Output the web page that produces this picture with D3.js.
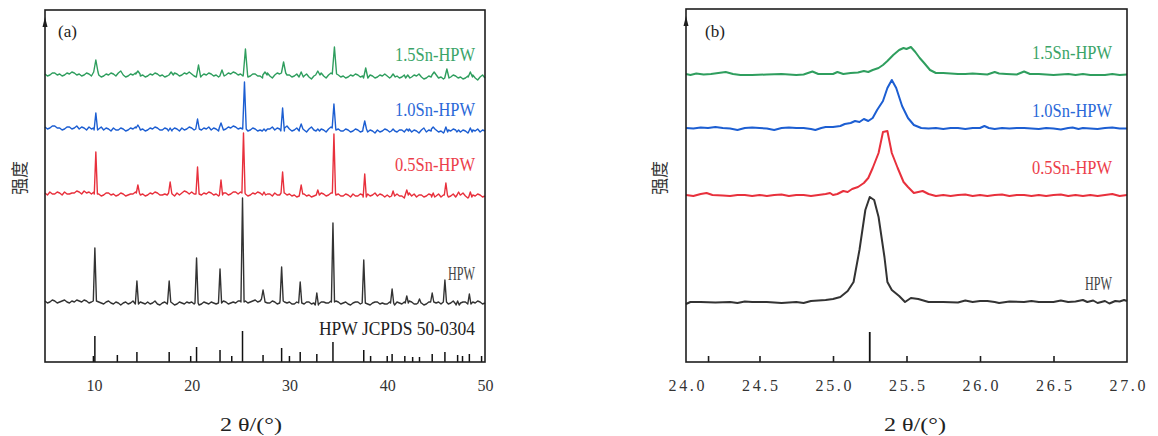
<!DOCTYPE html>
<html>
<head>
<meta charset="utf-8">
<script src="https://cdn.jsdelivr.net/npm/d3@7"></script>
<style>
  body { margin: 0; background: #ffffff; }
  svg { display: block; }
  text { font-family: "Liberation Serif", "DejaVu Serif", serif; }
</style>
</head>
<body>
<svg id="chart" width="1158" height="436"></svg>
<script>
// ---------- Panel (a): full scans, 2θ = 5–50°, baseline read every 0.25° ----------
const scanStart = 5, scanStep = 0.25;

const baseHPW = [
  61,59,60,62,61,59,60,61,62,60,59,61,60,62,61,60,62,61,59,60,
  61,58,60,59,58,60,61,59,58,60,59,57,59,60,58,59,61,59,58,60,
  59,58,60,58,59,61,58,57,59,60,58,60,59,57,58,60,59,58,60,59,
  60,58,59,57,58,60,59,58,60,59,58,60,59,61,60,58,59,60,59,61,
  61,60,61,59,60,61,62,60,61,63,60,59,59,61,60,58,59,61,60,59,
  60,58,58,60,59,57,58,60,60,58,59,57,58,60,60,59,59,61,60,61,
  60,58,59,60,58,57,59,60,60,58,59,61,58,57,59,60,60,58,59,58,
  58,60,59,57,60,59,58,60,59,61,60,58,58,59,59,57,58,60,60,58,
  59,60,58,57,60,58,59,61,58,57,59,60,60,59,58,60,59,61,60,58,
  59
];
const base05 = [
  169,167,170,168,168,170,169,167,170,168,168,169,169,171,170,168,171,169,170,168,
  170,168,168,166,167,169,169,167,168,166,167,169,168,166,167,168,168,170,169,167,
  168,166,167,169,168,170,169,167,167,168,167,169,168,166,169,167,169,171,170,168,
  170,168,168,166,167,169,168,170,169,167,168,166,167,169,169,167,168,170,170,168,
  170,169,168,166,167,169,168,170,169,167,167,168,168,166,169,167,167,169,169,167,
  168,166,167,165,166,168,168,166,167,165,166,168,167,169,168,166,167,169,169,167,
  168,166,166,168,167,165,168,166,166,168,167,165,168,166,167,169,166,168,167,165,
  167,165,166,168,168,166,166,164,167,169,166,168,165,167,167,165,166,168,167,165,
  166,168,165,167,167,165,166,168,165,167,167,169,166,164,165,167,166,168,167,165,
  166
];
const base10 = [
  235,233,234,236,236,234,234,232,233,235,235,233,234,236,233,235,234,232,235,233,
  234,232,233,235,232,234,233,231,234,232,232,234,233,231,232,234,233,235,234,232,
  233,231,232,234,233,235,234,232,232,234,233,231,232,234,233,231,234,232,233,235,
  234,232,233,231,232,234,233,235,232,234,233,231,234,232,233,235,234,236,235,233,
  234,232,233,231,232,234,233,231,232,230,231,233,233,235,232,234,233,231,234,236,
  233,231,232,234,231,233,232,230,233,235,232,234,231,233,232,230,233,235,234,232,
  233,231,231,233,232,230,231,233,232,230,231,233,230,232,231,229,232,230,231,233,
  232,230,231,233,230,232,232,230,231,233,230,232,231,229,232,234,230,232,231,233,
  232,230,231,229,230,232,231,233,232,230,230,232,231,229,230,232,231,233,230,232,
  231
];
const base15 = [
  288,286,287,289,289,287,288,286,287,289,288,290,289,287,288,286,287,289,288,286,
  288,290,287,285,286,288,287,289,288,286,289,291,287,285,286,288,287,289,288,286,
  287,285,286,288,287,289,288,286,287,285,286,288,287,289,288,286,287,289,288,290,
  288,286,287,285,286,288,287,289,288,286,287,285,286,288,287,289,288,290,289,287,
  288,286,287,285,286,288,288,286,286,284,287,289,286,284,287,289,288,290,289,287,
  287,285,286,288,287,285,286,288,285,283,286,288,287,289,286,284,287,289,288,286,
  287,285,286,284,285,287,286,288,287,285,286,284,285,287,286,284,285,287,286,288,
  286,284,285,287,286,284,285,287,284,282,285,287,286,288,285,283,284,286,285,287,
  286,284,285,283,284,286,285,287,286,284,285,283,284,286,285,287,284,282,285,287,
  284
];

// Reflections: [2θ, height above the local baseline]
const peaksHPW = [
  [10.1,53],[14.4,23],[17.7,21],[20.5,45],[22.9,34],[25.2,104],[27.3,9],[29.2,34],
  [31.1,21],[32.8,12],[34.45,79],[37.6,43],[40.5,14],[42.0,7],[43.3,4],[44.6,9],
  [45.9,22],[47.2,4],[48.4,10]
];
const peaks05 = [
  [10.2,42],[14.5,8],[17.8,11],[20.6,27],[23.0,15],[25.3,60],[27.4,3],[29.3,21],
  [31.2,9],[32.9,5],[34.55,59],[37.7,23],[40.6,5],[42.0,5],[44.7,4],[46.0,12],
  [47.3,3],[48.5,5]
];
const peaks10 = [
  [10.2,17],[14.5,3],[17.8,3],[20.6,10],[23.0,5],[25.4,47],[27.4,2],[29.3,23],
  [31.2,5],[32.9,2],[34.55,24],[37.7,8],[40.6,2],[42.0,2],[44.7,2],[46.0,5],
  [47.3,2],[48.5,4]
];
const peaks15 = [
  [10.2,12],[14.5,3],[17.9,3],[20.7,12],[23.1,6],[25.5,26],[27.5,3],[29.4,11],
  [31.2,5],[32.9,4],[34.6,27],[37.8,10],[40.6,3],[42.1,3],[44.8,3],[46.1,9],
  [48.5,5]
];

// Standard pattern HPW JCPDS 50-0304: [2θ, relative height]
const jcpdsSticks = [
  [9.95,6],[10.1,26],[12.4,7],[14.4,10],[17.7,10],[19.9,6],[20.5,15],[22.9,12],
  [24.1,6],[25.2,31],[27.3,7],[29.2,14],[30.0,6],[31.1,10],[32.8,8],[34.45,20],
  [37.6,12],[38.3,6],[40.0,6],[40.5,8],[41.8,6],[42.6,5],[43.3,5],[44.6,8],
  [45.9,10],[47.2,7],[47.7,6],[48.4,8],[49.65,6]
];

const ticksA = [10, 20, 30, 40, 50];

// ---------- Panel (b): detail of the (222) region, 24–27° ----------
const zoomHPW = [
  [24.00,58],[24.03,60],[24.10,60],[24.20,59.5],[24.30,60],[24.35,59],[24.40,60.5],[24.45,60],
  [24.55,60],[24.65,59],[24.75,60],[24.80,59],[24.85,61],[24.90,61.5],[24.95,62],[25.00,63],
  [25.05,65],[25.10,71],[25.14,80],[25.18,112],[25.22,152],[25.25,165],[25.28,162],[25.31,145],
  [25.35,105],[25.37,80],[25.40,72],[25.45,66],[25.49,60],[25.53,64],[25.58,63],[25.65,60],
  [25.75,60],[25.85,59.5],[25.90,61.5],[25.95,60],[26.00,61],[26.05,61],[26.10,60],[26.13,59],
  [26.20,60.5],[26.30,60],[26.35,61],[26.40,60],[26.50,60],[26.55,61.5],[26.60,60],[26.65,60.5],
  [26.70,62],[26.73,60],[26.77,61.5],[26.80,59],[26.85,61],[26.88,58.5],[26.92,61],[26.95,60.5],
  [26.98,62],[27.00,61]
];
const zoom05 = [
  [24.00,167],[24.05,166],[24.10,168],[24.14,169],[24.18,167],[24.25,166.5],[24.30,166],[24.35,167],
  [24.40,167],[24.45,166],[24.50,167],[24.55,166],[24.60,167],[24.65,167.5],[24.70,166],[24.75,167],
  [24.80,167],[24.85,166],[24.90,167],[24.95,168],[24.98,169],[25.00,167],[25.03,168],[25.07,171],
  [25.10,170],[25.13,173],[25.17,175],[25.21,179],[25.24,184],[25.27,194],[25.31,209],[25.34,230],
  [25.37,231],[25.40,209],[25.44,194],[25.48,180],[25.51,175],[25.55,169],[25.58,170],[25.61,171],
  [25.65,168],[25.70,166],[25.75,167],[25.80,166],[25.85,167],[25.90,167.5],[25.95,166],[26.00,167],
  [26.05,166],[26.10,167],[26.15,167.5],[26.20,166],[26.25,167],[26.30,167],[26.35,166],[26.40,167],
  [26.45,166],[26.50,167],[26.55,167.5],[26.60,166],[26.65,167],[26.70,166],[26.75,167],[26.80,166],
  [26.85,167],[26.90,168],[26.95,166],[27.00,167]
];
const zoom10 = [
  [24.00,234],[24.05,233.5],[24.10,234.5],[24.15,234],[24.20,235],[24.25,234],[24.30,233.5],[24.35,232],
  [24.40,234],[24.45,234.5],[24.50,234],[24.55,233.5],[24.60,232],[24.65,234],[24.70,234.5],[24.75,234],
  [24.80,234],[24.85,233],[24.88,232],[24.92,234],[24.95,235],[25.00,235],[25.05,236],[25.08,238],
  [25.12,239],[25.15,241],[25.18,240],[25.21,243],[25.24,241],[25.27,244],[25.30,252],[25.34,261],
  [25.37,274],[25.40,282],[25.43,274],[25.47,256],[25.51,244],[25.55,237],[25.60,234],[25.65,233.5],
  [25.70,234],[25.75,233],[25.80,234],[25.85,234],[25.90,233],[25.95,234],[26.00,234],[26.03,236],
  [26.06,234],[26.10,233],[26.15,234],[26.20,233.5],[26.25,234],[26.30,234],[26.35,233.5],[26.40,233],
  [26.45,234],[26.50,233.5],[26.55,232.5],[26.60,234],[26.63,234.5],[26.67,233],[26.70,234],[26.75,233.5],
  [26.80,233],[26.85,234],[26.90,234.5],[26.95,233.5],[27.00,233.5]
];
const zoom15 = [
  [24.00,288],[24.03,287],[24.07,288.5],[24.12,287.5],[24.17,288],[24.22,289],[24.27,290],[24.32,288],
  [24.37,287],[24.45,287],[24.55,287.5],[24.65,288],[24.75,287],[24.80,287.5],[24.86,290.5],[24.90,288],
  [24.95,288],[25.00,288],[25.03,290],[25.07,288],[25.12,289],[25.17,289.5],[25.21,291],[25.24,290],
  [25.27,292],[25.31,294],[25.34,297],[25.37,301],[25.41,307],[25.45,312],[25.48,314],[25.50,313],
  [25.53,315],[25.56,310],[25.59,304],[25.62,299],[25.66,292],[25.70,289],[25.75,289],[25.80,288.5],
  [25.85,288],[25.90,288],[25.95,288.5],[26.00,288],[26.05,287.5],[26.10,290],[26.13,288.5],[26.18,288],
  [26.25,287.5],[26.30,290.5],[26.34,288],[26.40,288],[26.45,287.5],[26.50,287],[26.55,287.5],[26.60,288],
  [26.65,287],[26.70,288],[26.75,287],[26.80,287],[26.85,287],[26.90,288],[26.95,287],[27.00,287.5]
];
const zoomSticks = [[25.25, 30]];

const ticksBLabels = [24.0, 24.5, 25.0, 25.5, 26.0, 26.5, 27.0];
const ticksBMarks = [24.15, 24.5, 25.0, 25.5, 26.0, 26.5];

const seriesNames = ["HPW", "0.5Sn-HPW", "1.0Sn-HPW", "1.5Sn-HPW"];
const seriesColors = ["#333333", "#e8303c", "#1c5ed2", "#2f9e5e"];
const labelColors = ["#444444", "#ec3d4a", "#2a68d8", "#3aa468"];

// ---------- drawing ----------
const svg = d3.select("#chart");
const frameColor = "#1e1e1e";

// Assemble a scan: baseline samples plus triangular reflections
function buildScan(base, peaks, halfWidth) {
  const pts = [];
  base.forEach((v, i) => {
    const x = scanStart + i * scanStep;
    if (!peaks.some(p => Math.abs(p[0] - x) < halfWidth)) pts.push([x, v]);
  });
  peaks.forEach(([pos, h]) => {
    const b = base[Math.round((pos - scanStart) / scanStep)];
    pts.push([pos - halfWidth, b], [pos, b + h], [pos + halfWidth, b]);
  });
  return pts.sort((a, b) => a[0] - b[0]);
}

function drawFrame(g, x0, y0, x1, y1) {
  g.append("rect")
    .attr("x", x0).attr("y", y0)
    .attr("width", x1 - x0).attr("height", y1 - y0)
    .attr("fill", "none").attr("stroke", frameColor).attr("stroke-width", 1.6);
  // arrow head on the intensity axis
  g.append("path")
    .attr("d", `M${x0 - 2.5},${y0 + 17} L${x0},${y0 + 7} L${x0 + 2.5},${y0 + 17} Z`)
    .attr("fill", frameColor);
}

function seriesLabel(g, text, xRight, yBase, len, color) {
  g.append("text")
    .attr("x", xRight).attr("y", yBase)
    .attr("text-anchor", "end")
    .attr("textLength", len).attr("lengthAdjust", "spacingAndGlyphs")
    .attr("font-size", 19)
    .attr("fill", color)
    .text(text);
}

function axisTitle(g, cx) {
  g.append("text")
    .attr("x", cx).attr("y", 431)
    .attr("text-anchor", "middle")
    .attr("textLength", 62).attr("lengthAdjust", "spacingAndGlyphs")
    .attr("font-size", 18).attr("fill", "#222")
    .text("2 θ/(°)");
}

function yTitle(g, cx) {
  g.append("text")
    .attr("transform", `translate(${cx},178) rotate(-90)`)
    .attr("text-anchor", "middle")
    .attr("dominant-baseline", "central")
    .style("font-family", '"Noto Sans CJK SC", sans-serif')
    .attr("font-size", 17).attr("fill", "#333")
    .text("强度");
}

// ----- panel (a) -----
{
  const L = 45, T = 10, R = 485, B = 362;
  const x = d3.scaleLinear().domain([5, 50]).range([L, R]);
  const y = d3.scaleLinear().domain([0, B - T]).range([B, T]);
  const g = svg.append("g");

  const scans = [
    buildScan(baseHPW, peaksHPW, 0.16),
    buildScan(base05, peaks05, 0.16),
    buildScan(base10, peaks10, 0.18),
    buildScan(base15, peaks15, 0.22)
  ];
  const line = d3.line().x(d => x(d[0])).y(d => y(d[1]));

  g.selectAll("path.scan").data(scans).join("path")
    .attr("class", "scan")
    .attr("d", line)
    .attr("fill", "none")
    .attr("stroke", (d, i) => seriesColors[i])
    .attr("stroke-width", 1.4)
    .attr("stroke-linejoin", "round");

  g.selectAll("line.stick").data(jcpdsSticks).join("line")
    .attr("class", "stick")
    .attr("x1", d => x(d[0])).attr("x2", d => x(d[0]))
    .attr("y1", y(0)).attr("y2", d => y(d[1]))
    .attr("stroke", "#111").attr("stroke-width", 1.5);

  const ax = g.append("g").attr("transform", `translate(0,${B})`)
    .call(d3.axisBottom(x).tickValues(ticksA).tickSize(0).tickPadding(18).tickFormat(d3.format("d")));
  ax.select(".domain").remove();
  ax.selectAll("text").attr("font-size", 16).attr("fill", "#333")
    .style("font-family", '"Liberation Serif", serif');

  drawFrame(g, L, T, R, B);

  g.append("text").attr("x", 58).attr("y", 37).attr("font-size", 17).attr("fill", "#222").text("(a)");

  seriesLabel(g, seriesNames[3], 475, 61, 80, labelColors[3]);
  seriesLabel(g, seriesNames[2], 475, 116, 80, labelColors[2]);
  seriesLabel(g, seriesNames[1], 475, 171, 80, labelColors[1]);
  seriesLabel(g, seriesNames[0], 475, 280, 27, labelColors[0]);
  seriesLabel(g, "HPW  JCPDS  50-0304", 475, 335, 156, "#222");

  axisTitle(g, 251);
  yTitle(g, 18);
}

// ----- panel (b) -----
{
  const L = 686, T = 9, R = 1127, B = 362;
  const x = d3.scaleLinear().domain([24, 27]).range([L, R]);
  const y = d3.scaleLinear().domain([0, B - T]).range([B, T]);
  const g = svg.append("g");

  const scans = [zoomHPW, zoom05, zoom10, zoom15];
  const line = d3.line().x(d => x(d[0])).y(d => y(d[1]));

  g.selectAll("path.scan").data(scans).join("path")
    .attr("class", "scan")
    .attr("d", line)
    .attr("fill", "none")
    .attr("stroke", (d, i) => seriesColors[i])
    .attr("stroke-width", 2)
    .attr("stroke-linejoin", "round");

  g.selectAll("line.stick").data(zoomSticks).join("line")
    .attr("class", "stick")
    .attr("x1", d => x(d[0])).attr("x2", d => x(d[0]))
    .attr("y1", y(0)).attr("y2", d => y(d[1]))
    .attr("stroke", "#111").attr("stroke-width", 1.8);

  const marks = g.append("g").attr("transform", `translate(0,${B})`)
    .call(d3.axisBottom(x).tickValues(ticksBMarks).tickSize(-6).tickFormat(""));
  marks.select(".domain").remove();
  marks.selectAll("line").attr("stroke", frameColor).attr("stroke-width", 1.6);

  const ax = g.append("g").attr("transform", `translate(0,${B})`)
    .call(d3.axisBottom(x).tickValues(ticksBLabels).tickSize(0).tickPadding(18).tickFormat(d3.format(".1f")));
  ax.select(".domain").remove();
  ax.selectAll("text").attr("font-size", 16).attr("fill", "#333")
    .attr("textLength", 36).attr("lengthAdjust", "spacing")
    .style("font-family", '"Liberation Serif", serif');

  drawFrame(g, L, T, R, B);

  g.append("text").attr("x", 705).attr("y", 37).attr("font-size", 17).attr("fill", "#222").text("(b)");

  seriesLabel(g, seriesNames[3], 1112, 59, 80, labelColors[3]);
  seriesLabel(g, seriesNames[2], 1112, 117, 80, labelColors[2]);
  seriesLabel(g, seriesNames[1], 1112, 174, 80, labelColors[1]);
  seriesLabel(g, seriesNames[0], 1112, 290, 27, labelColors[0]);

  axisTitle(g, 915);
  yTitle(g, 658);
}
</script>
</body>
</html>
